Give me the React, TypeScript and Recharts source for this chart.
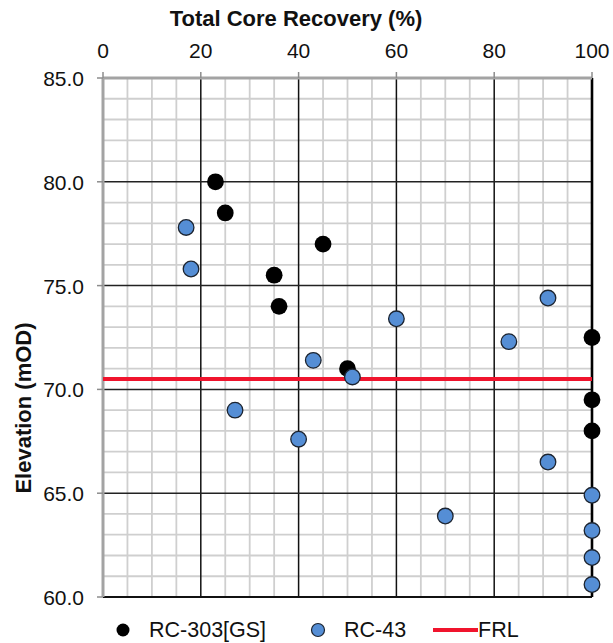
import React from "react";
import {
  ScatterChart,
  Scatter,
  XAxis,
  YAxis,
  ReferenceLine,
} from "recharts";

// core recovery (%) against elevation (mOD) for each hole
const rc303Recovery = [23, 25, 45, 35, 36, 50, 100, 100, 100];
const rc303Elevation = [80.0, 78.5, 77.0, 75.5, 74.0, 71.0, 72.5, 69.5, 68.0];

const rc43Recovery = [17, 18, 43, 51, 60, 83, 91, 27, 40, 70, 91, 100, 100, 100, 100];
const rc43Elevation = [77.8, 75.8, 71.4, 70.6, 73.4, 72.3, 74.4, 69.0, 67.6, 63.9, 66.5, 64.9, 63.2, 61.9, 60.6];

const frlLevel = 70.5;

const recoveryTicks = [0, 20, 40, 60, 80, 100];
const elevationTicks = [60, 65, 70, 75, 80, 85];

const rc303Data = rc303Recovery.map((x, i) => ({ x, y: rc303Elevation[i] }));
const rc43Data = rc43Recovery.map((x, i) => ({ x, y: rc43Elevation[i] }));

// minor grid every 5% across and every 1 m down
const minorX: number[] = [];
for (let v = 5; v < 100; v += 5) if (v % 20 !== 0) minorX.push(v);
const minorY: number[] = [];
for (let v = 61; v < 85; v += 1) if (v % 5 !== 0) minorY.push(v);

const FONT = "'Liberation Sans', Arial, sans-serif";
const BLUE = "#558ED5";
const RED = "#F0142D";

const XTick = ({ x, payload }: any) => (
  <text x={x} y={58} textAnchor="middle" fontSize={21} fontFamily={FONT} fill="#111">
    {payload.value}
  </text>
);

const YTick = ({ y, payload }: any) => (
  <text x={84} y={y + 8} textAnchor="end" fontSize={21} fontFamily={FONT} fill="#111">
    {Number(payload.value).toFixed(1)}
  </text>
);

const BlackDot = ({ cx, cy }: any) => <circle cx={cx} cy={cy} r={8.4} fill="#000" />;
const BlueDot = ({ cx, cy }: any) => (
  <circle cx={cx} cy={cy} r={7.8} fill={BLUE} stroke="#1c2430" strokeWidth={1.3} />
);

export default function App() {
  return (
    <div style={{ position: "fixed", left: 0, top: 0, width: 613, height: 643, background: "#fff" }}>
      <ScatterChart width={613} height={643} margin={{ top: 48, right: 21, bottom: 46, left: 0 }}>
        <XAxis
          type="number"
          dataKey="x"
          orientation="top"
          domain={[0, 100]}
          ticks={recoveryTicks}
          height={30}
          axisLine={false}
          tickLine={{ stroke: "#8c8c8c", strokeWidth: 1.5 }}
          tickSize={6}
          tick={<XTick />}
          interval={0}
        />
        <YAxis
          type="number"
          dataKey="y"
          domain={[60, 85]}
          ticks={elevationTicks}
          width={103}
          axisLine={false}
          tickLine={{ stroke: "#8c8c8c", strokeWidth: 1.5 }}
          tickSize={6}
          tick={<YTick />}
          interval={0}
        />

        {minorX.map((v) => (
          <ReferenceLine key={`mx${v}`} x={v} stroke="#cfcfcf" strokeWidth={1.8} />
        ))}
        {minorY.map((v) => (
          <ReferenceLine key={`my${v}`} y={v} stroke="#cfcfcf" strokeWidth={1.8} />
        ))}
        {[20, 40, 60, 80].map((v) => (
          <ReferenceLine key={`Mx${v}`} x={v} stroke="#111" strokeWidth={1.5} />
        ))}
        {[65, 70, 75, 80].map((v) => (
          <ReferenceLine key={`My${v}`} y={v} stroke="#222" strokeWidth={1.5} />
        ))}
        <ReferenceLine y={60} stroke="#111" strokeWidth={2.2} />
        <ReferenceLine x={100} stroke="#000" strokeWidth={2.6} />
        <ReferenceLine y={85} stroke="#a3a3a3" strokeWidth={3} />
        <ReferenceLine x={0} stroke="#a3a3a3" strokeWidth={3} />

        <ReferenceLine y={frlLevel} stroke={RED} strokeWidth={4} />

        <Scatter data={rc303Data} shape={<BlackDot />} isAnimationActive={false} />
        <Scatter data={rc43Data} shape={<BlueDot />} isAnimationActive={false} />
      </ScatterChart>

      <svg
        width={613}
        height={643}
        style={{ position: "absolute", left: 0, top: 0, pointerEvents: "none" }}
      >
        <text x={296} y={26} textAnchor="middle" fontSize={22} fontWeight="bold" fontFamily={FONT} fill="#111">
          Total Core Recovery (%)
        </text>
        <text
          x={31}
          y={408}
          textAnchor="middle"
          fontSize={22}
          fontWeight="bold"
          fontFamily={FONT}
          fill="#111"
          transform="rotate(-90 31 408)"
        >
          Elevation (mOD)
        </text>

        {/* legend */}
        <circle cx={123} cy={630} r={6.5} fill="#000" />
        <text x={149} y={637} fontSize={21.5} fontFamily={FONT} fill="#111">RC-303[GS]</text>
        <circle cx={318} cy={630} r={6.5} fill={BLUE} stroke="#1c2430" strokeWidth={1.2} />
        <text x={344} y={637} fontSize={21.5} fontFamily={FONT} fill="#111">RC-43</text>
        <line x1={433} y1={630} x2={478} y2={630} stroke={RED} strokeWidth={4} />
        <text x={478} y={637} fontSize={21.5} fontFamily={FONT} fill="#111">FRL</text>
      </svg>
    </div>
  );
}
